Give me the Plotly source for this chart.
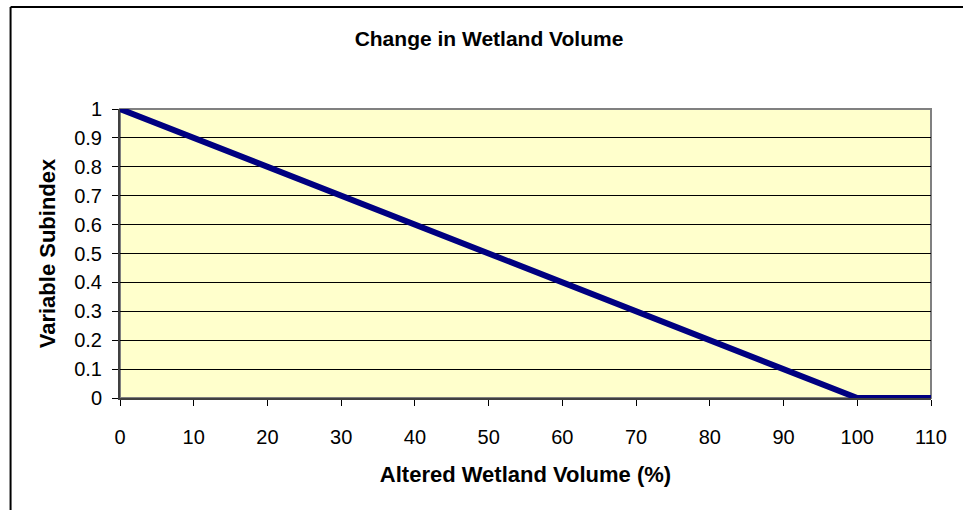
import plotly.graph_objects as go

# Subindex curve for altered wetland volume
altered_volume = [0, 100, 110]
subindex = [1, 0, 0]

x_ticks = [0, 10, 20, 30, 40, 50, 60, 70, 80, 90, 100, 110]
y_ticks = [0, 0.1, 0.2, 0.3, 0.4, 0.5, 0.6, 0.7, 0.8, 0.9, 1]
y_tick_text = ["0", "0.1", "0.2", "0.3", "0.4", "0.5", "0.6", "0.7", "0.8", "0.9", "1"]

W, H = 963, 510
ML, MR, MT, MB = 119.5, 32, 109, 112
plot_w = W - ML - MR
plot_h = H - MT - MB


def px_to_paper_x(px):
    return (px - ML) / plot_w


def px_to_paper_y(py):
    return (H - MB - py) / plot_h


font = "Liberation Sans, Arial, sans-serif"

fig = go.Figure()
fig.add_trace(go.Scatter(
    x=altered_volume, y=subindex, mode="lines",
    line=dict(color="#000080", width=6),
    hoverinfo="x+y", showlegend=False,
))

fig.update_layout(
    width=W, height=H,
    margin=dict(l=ML, r=MR, t=MT, b=MB),
    paper_bgcolor="white",
    plot_bgcolor="#FFFFCC",
    font=dict(family=font, size=20, color="black"),
    title=dict(
        text="<b>Change in Wetland Volume</b>",
        font=dict(family=font, size=21, color="black"),
        x=489 / W, xanchor="center",
        y=1 - 39 / H, yanchor="middle",
    ),
    shapes=[
        # plot-area frame (grey top/right)
        dict(type="rect", xref="paper", yref="paper", x0=0, x1=1, y0=0, y1=1,
             line=dict(color="#808080", width=2), layer="below"),
        # outer chart frame
        dict(type="line", xref="paper", yref="paper",
             x0=px_to_paper_x(10), x1=px_to_paper_x(10),
             y0=px_to_paper_y(7), y1=px_to_paper_y(H + 5),
             line=dict(color="black", width=2)),
        dict(type="line", xref="paper", yref="paper",
             x0=px_to_paper_x(10), x1=px_to_paper_x(W + 5),
             y0=px_to_paper_y(7), y1=px_to_paper_y(7),
             line=dict(color="black", width=2)),
    ],
)

fig.update_xaxes(
    range=[0, 110], tickvals=x_ticks, ticks="outside", ticklen=6,
    tickcolor="black", tickwidth=1, ticklabelstandoff=14,
    showgrid=False, zeroline=False,
    showline=True, linecolor="#404040", linewidth=2,
    tickfont=dict(family=font, size=20),
    title=dict(text="<b>Altered Wetland Volume (%)</b>",
               font=dict(family=font, size=22), standoff=20),
    fixedrange=True,
)
fig.update_yaxes(
    range=[0, 1], tickvals=y_ticks, ticktext=y_tick_text,
    ticks="outside", ticklen=6, tickcolor="black", tickwidth=1,
    ticklabelstandoff=6,
    showgrid=True, gridcolor="black", gridwidth=1,
    zeroline=False,
    showline=True, linecolor="#404040", linewidth=2,
    tickfont=dict(family=font, size=20),
    title=dict(text="<b>Variable Subindex</b>",
               font=dict(family=font, size=22), standoff=12),
    fixedrange=True,
)

fig.write_html("out.html", config={"displayModeBar": False})
